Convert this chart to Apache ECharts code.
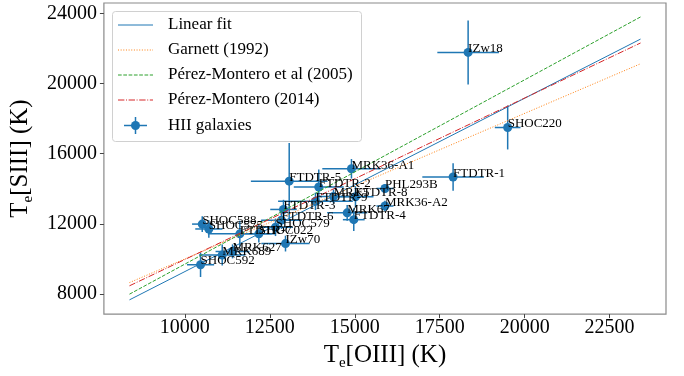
<!DOCTYPE html>
<html><head><meta charset="utf-8">
<script src="https://cdn.jsdelivr.net/npm/echarts@6/dist/echarts.min.js"></script>
<style>html,body{margin:0;padding:0;background:#fff}#c{width:684px;height:376px}</style>
</head><body><div id="c"></div>
<script>
const names   = ['IZw18','SHOC220','FTDTR-1','MRK36-A1','FTDTR-5','FTDTR-2','PHL293B','FTDTR-8','MRK5','FTDTR-9','MRK36-A2','MRK67','FTDTR-4','FTDTR-3','FTDTR-6','SHOC579','SHOC588','SHOC575','FTDTR-7','SHOC022','IZw70','MRK627','MRK689','SHOC592'];
const teOIII  = [18336,19500,17894,14903,13071,13941,15889,15021,14374,13844,15889,14777,14971,12903,12844,12668,10512,10706,11618,12177,12962,11403,11100,10462];
const teSIII  = [21776,17494,14674,15141,14435,14101,14018,13545,13561,13283,13016,12627,12238,12822,12210,11804,11987,11709,11431,11431,10875,10430,10224,9668];
const errOIII = [906,378,906,858,1128,735,250,530,450,1100,250,590,320,390,600,500,300,400,940,500,710,500,680,400];
const errSIII = [1824,1251,780,556,2180,1000,250,600,400,500,300,450,650,550,500,500,450,500,740,500,450,400,600,700];
const fitX      = [8370, 23410];
const linearFit = [7666, 22537];
const garnett   = [8650, 21130];
const pm2005    = [7990, 23800];
const pm2014    = [8467, 22315];
const xTicks = [10000,12500,15000,17500,20000,22500];
const yTicks = [8000,12000,16000,20000,24000];

const FONT = '"Liberation Serif","Times New Roman",serif';
const BLUE = '#1f77b4';
const pts = names.map((n,i)=>[teOIII[i],teSIII[i],errOIII[i],errSIII[i],n]);
const lineData = arr => fitX.map((x,i)=>[x,arr[i]]);

const chart = echarts.init(document.getElementById('c'));
const rich = {
  m:{fontSize:25,fontFamily:FONT,color:'#000',lineHeight:31},
  s:{fontSize:15,fontFamily:FONT,color:'#000',lineHeight:15,verticalAlign:'bottom'}
};
chart.setOption({
  animation:false,
  grid:{left:103,right:18,top:3,bottom:54,show:true,borderColor:'#8a8a8a',borderWidth:1.2},
  xAxis:{type:'value',min:7618,max:24159,
    axisLine:{show:false},splitLine:{show:false},
    axisTick:{show:true,length:4,lineStyle:{color:'#444'},customValues:xTicks},
    axisLabel:{fontSize:20,fontFamily:FONT,color:'#000',margin:4,customValues:xTicks,formatter:v=>String(v)},
    name:'{m|T}{s|e}{m|[OIII] (K)}',nameLocation:'middle',nameGap:15,nameTextStyle:{rich:rich}},
  yAxis:{type:'value',min:6854,max:24595,
    axisLine:{show:false},splitLine:{show:false},
    axisTick:{show:true,length:4,lineStyle:{color:'#444'},customValues:yTicks},
    axisLabel:{fontSize:20,fontFamily:FONT,color:'#000',margin:7,customValues:yTicks,formatter:v=>String(v)},
    name:'{m|T}{s|e}{m|[SIII] (K)}',nameLocation:'middle',nameGap:62,nameRotate:90,nameTextStyle:{rich:rich}},
  series:[
    {type:'custom',z:2,data:pts,encode:{x:0,y:1},
      renderItem:function(params,api){
        const x=api.value(0),y=api.value(1),ex=api.value(2),ey=api.value(3);
        const c=api.coord([x,y]),l=api.coord([x-ex,y]),r=api.coord([x+ex,y]);
        const t=api.coord([x,y+ey]),b=api.coord([x,y-ey]);
        return {type:'group',children:[
          {type:'line',shape:{x1:l[0],y1:c[1],x2:r[0],y2:c[1]},style:{stroke:BLUE,lineWidth:1.5}},
          {type:'line',shape:{x1:c[0],y1:t[1],x2:c[0],y2:b[1]},style:{stroke:BLUE,lineWidth:1.5}},
          {type:'circle',shape:{cx:c[0],cy:c[1],r:4.5},style:{fill:BLUE}}
        ]};
      }},
    {type:'line',name:'Linear fit',z:3,data:lineData(linearFit),symbol:'none',lineStyle:{color:BLUE,width:1,type:'solid'}},
    {type:'line',name:'Garnett (1992)',z:3,data:lineData(garnett),symbol:'none',lineStyle:{color:'#ff7f0e',width:1,type:[1,1.65]}},
    {type:'line',name:'Pérez-Montero et al (2005)',z:3,data:lineData(pm2005),symbol:'none',lineStyle:{color:'#2ca02c',width:1,type:[3.7,1.6]}},
    {type:'line',name:'Pérez-Montero (2014)',z:3,data:lineData(pm2014),symbol:'none',lineStyle:{color:'#d62728',width:1,type:[6.4,1.6,1,1.6]}},
    {type:'custom',z:4,data:pts,encode:{x:0,y:1},
      renderItem:function(params,api){
        const c=api.coord([api.value(0),api.value(1)]);
        return {type:'text',x:c[0],y:c[1]+2.8,style:{text:names[params.dataIndex],fill:'#000',fontSize:13,fontFamily:FONT,align:'left',verticalAlign:'bottom'}};
      }}
  ],
  graphic:[
    {type:'group',z:100,children:[
      {type:'rect',shape:{x:112.5,y:11.5,width:249,height:130,r:3},style:{fill:'rgba(255,255,255,0.8)',stroke:'#d0d0d0',lineWidth:1}},
      {type:'line',shape:{x1:118,y1:25,x2:153,y2:25},style:{stroke:BLUE,lineWidth:1}},
      {type:'line',shape:{x1:118,y1:50,x2:153,y2:50},style:{stroke:'#ff7f0e',lineWidth:1,lineDash:[1,1.65]}},
      {type:'line',shape:{x1:118,y1:75,x2:153,y2:75},style:{stroke:'#2ca02c',lineWidth:1,lineDash:[3.7,1.6]}},
      {type:'line',shape:{x1:118,y1:100,x2:153,y2:100},style:{stroke:'#d62728',lineWidth:1,lineDash:[6.4,1.6,1,1.6]}},
      {type:'line',shape:{x1:124,y1:125.5,x2:147,y2:125.5},style:{stroke:BLUE,lineWidth:1.5}},
      {type:'line',shape:{x1:135.5,y1:117,x2:135.5,y2:134},style:{stroke:BLUE,lineWidth:1.5}},
      {type:'circle',shape:{cx:135.5,cy:125.5,r:4.5},style:{fill:BLUE}},
      {type:'text',x:168,y:25,style:{text:'Linear fit',fontSize:17,fontFamily:FONT,fill:'#000',verticalAlign:'middle'}},
      {type:'text',x:168,y:50,style:{text:'Garnett (1992)',fontSize:17,fontFamily:FONT,fill:'#000',verticalAlign:'middle'}},
      {type:'text',x:168,y:75,style:{text:'Pérez-Montero et al (2005)',fontSize:17,fontFamily:FONT,fill:'#000',verticalAlign:'middle'}},
      {type:'text',x:168,y:100,style:{text:'Pérez-Montero (2014)',fontSize:17,fontFamily:FONT,fill:'#000',verticalAlign:'middle'}},
      {type:'text',x:168,y:125.5,style:{text:'HII galaxies',fontSize:17,fontFamily:FONT,fill:'#000',verticalAlign:'middle'}}
    ]}
  ]
});
</script></body></html>
